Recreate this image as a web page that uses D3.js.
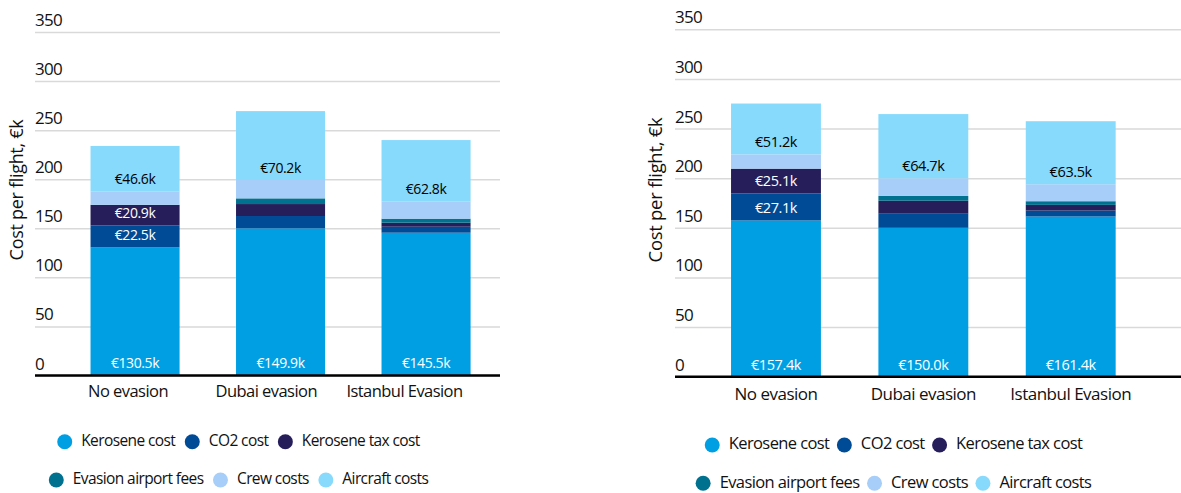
<!DOCTYPE html>
<html><head><meta charset="utf-8">
<script src="https://cdn.jsdelivr.net/npm/d3@7"></script>
<style>
body{margin:0;background:#fff;}
text{font-family:"Open Sans","Noto Sans",sans-serif;}
</style></head>
<body><svg id="c" width="1181" height="493"></svg>
<script>
// ---- data ----
const categories = ["No evasion", "Dubai evasion", "Istanbul Evasion"];
const seriesNames = ["Kerosene cost", "CO2 cost", "Kerosene tax cost", "Evasion airport fees", "Crew costs", "Aircraft costs"];
const seriesColors = ["#009FE3", "#004B96", "#251E5B", "#00718F", "#A6CEF9", "#88DAFD"];
const yTicks = [0, 50, 100, 150, 200, 250, 300, 350];

const leftKerosene = [130.5, 149.9, 145.5];
const leftCO2 = [22.5, 12.6, 6.1];
const leftTax = [20.9, 12.2, 4.1];
const leftFees = [0, 5.8, 4.1];
const leftCrew = [13.4, 18.7, 17.3];
const leftAircraft = [46.6, 70.2, 62.8];

const rightKerosene = [157.4, 150.0, 161.4];
const rightCO2 = [27.1, 14.2, 6.0];
const rightTax = [25.1, 13.1, 5.7];
const rightFees = [0, 4.8, 3.7];
const rightCrew = [14.4, 17.8, 17.1];
const rightAircraft = [51.2, 64.7, 63.5];

const labelThreshold = 20;
const labelColors = ["#fff", "#fff", "#fff", "#fff", "#000", "#000"];

const svg = d3.select("#c");

function drawPanel(cfg, seriesVals) {
  const g = svg.append("g");
  const rows = categories.map((c, i) => {
    const r = {cat: c};
    seriesNames.forEach((s, k) => r[s] = seriesVals[k][i]);
    return r;
  });
  const stack = d3.stack().keys(seriesNames)(rows);
  const y = d3.scaleLinear().domain([0, 350]).range(cfg.yRange);
  const x = d3.scaleBand().domain(categories).range(cfg.bandRange).paddingInner(cfg.padInner).paddingOuter(cfg.padInner / 2);
  const xl = d3.scaleBand().domain(categories).range(cfg.labelRange);

  // grid + tick labels
  const yAxis = d3.axisRight(y).tickValues(yTicks).tickSize(cfg.gridX1 - cfg.gridX0).tickFormat(d3.format("d"));
  const ga = g.append("g").attr("transform", `translate(${cfg.gridX0},0)`).call(yAxis);
  ga.select(".domain").remove();
  ga.selectAll(".tick line").attr("stroke", "#d9d9d9").attr("stroke-width", 1.5);
  ga.selectAll(".tick text").attr("x", 0).attr("dy", null).attr("y", -11).attr("text-anchor", "start")
    .attr("dominant-baseline", "middle").attr("font-size", cfg.tickFont)
    .attr("letter-spacing", cfg.tickLS).attr("fill", "#111");

  // bars
  const layers = g.append("g").selectAll("g").data(stack).join("g")
    .attr("fill", (d, i) => seriesColors[i]);
  layers.selectAll("rect").data(d => d).join("rect")
    .attr("x", d => x(d.data.cat))
    .attr("width", x.bandwidth())
    .attr("y", d => y(d[1]))
    .attr("height", d => Math.max(0, y(d[0]) - y(d[1])));

  // value labels
  stack.forEach((layer, k) => {
    g.append("g").selectAll("text").data(layer.filter(d => d[1] - d[0] >= labelThreshold)).join("text")
      .attr("x", d => x(d.data.cat) + x.bandwidth() / 2)
      .attr("y", d => y(d[0]) - 11)
      .attr("text-anchor", "middle").attr("dominant-baseline", "middle")
      .attr("font-size", cfg.valFont).attr("letter-spacing", -0.4).attr("fill", labelColors[k])
      .text(d => "€" + d3.format(".1f")(d[1] - d[0]) + "k");
  });

  // baseline
  g.append("line").attr("x1", cfg.gridX0).attr("x2", cfg.gridX1)
    .attr("y1", y(0)).attr("y2", y(0)).attr("stroke", "#000").attr("stroke-width", 2.5);

  // x axis labels
  const xAxis = d3.axisBottom(xl).tickSize(0);
  const gx = g.append("g").attr("transform", `translate(0,${cfg.catY})`).call(xAxis);
  gx.select(".domain").remove();
  gx.selectAll(".tick text").attr("y", 0).attr("dy", null).attr("dominant-baseline", "middle")
    .attr("font-size", cfg.catFont).attr("letter-spacing", cfg.catLS).attr("fill", "#111");

  // y title
  g.append("text").attr("transform", `translate(${cfg.titleX},${cfg.titleY}) rotate(-90)`)
    .attr("text-anchor", "middle").attr("dominant-baseline", "middle")
    .attr("font-size", cfg.titleFont).attr("letter-spacing", -0.3).attr("fill", "#111").text("Cost per flight, €k");

  // legend
  const legendRows = [[0, 1, 2], [3, 4, 5]];
  legendRows.forEach((row, ri) => {
    const lg = g.append("g");
    let cx = 0;
    row.forEach(k => {
      lg.append("circle").attr("cx", cx).attr("cy", 0).attr("r", 7.5).attr("fill", seriesColors[k]);
      const t = lg.append("text").attr("x", cx + 16.5).attr("y", 0).attr("dominant-baseline", "middle")
        .attr("font-size", cfg.legFont).attr("letter-spacing", cfg.legLS).attr("fill", "#111").text(seriesNames[k]);
      cx = cx + 16.5 + t.node().getComputedTextLength() + cfg.legGap;
    });
    const total = cx - cfg.legGap + 7.5;
    lg.attr("transform", `translate(${cfg.legCenter - total / 2 + 7.5},${cfg.legY[ri]})`);
  });
}

drawPanel({
  yRange: [375.5, 32], gridX0: 35, gridX1: 500,
  bandRange: [62.3, 498.8], padInner: 0.388, labelRange: [58.9, 473.6],
  catY: 393, titleX: 18, titleY: 190, legCenter: 238.5, legY: [441.7, 480],
  tickFont: 17, tickLS: -0.7, valFont: 14, catFont: 16.5, catLS: -0.55,
  titleFont: 18, legFont: 15.5, legLS: -0.6, legGap: 17
}, [leftKerosene, leftCO2, leftTax, leftFees, leftCrew, leftAircraft]);

drawPanel({
  yRange: [376.7, 29.3], gridX0: 675, gridX1: 1181,
  bandRange: [702.3, 1144.4], padInner: 0.39, labelRange: [702.3, 1144.4],
  catY: 395, titleX: 657, titleY: 190, legCenter: 893.5, legY: [445, 483.3],
  tickFont: 17, tickLS: -0.7, valFont: 14.5, catFont: 17, catLS: -0.5,
  titleFont: 18.5, legFont: 16.5, legLS: -0.6, legGap: 15
}, [rightKerosene, rightCO2, rightTax, rightFees, rightCrew, rightAircraft]);
</script>
</body></html>
